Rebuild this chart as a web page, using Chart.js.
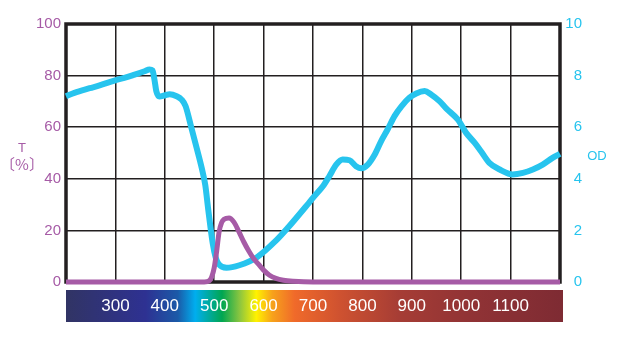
<!DOCTYPE html>
<html>
<head>
<meta charset="utf-8">
<script src="https://cdn.jsdelivr.net/npm/chart.js@4"></script>
<style>
  html, body { margin: 0; padding: 0; background: #fff; }
  #wrap { width: 641px; height: 337px; }
</style>
</head>
<body>
<div id="wrap"><canvas id="chart" width="641" height="337"></canvas></div>
<script>
// transmittance (%) of the filter vs wavelength (nm)
const tWavelength = [200, 480, 490, 495, 500, 505, 510, 515, 520, 530, 540, 550, 560, 570, 580, 590, 600, 612, 625, 640, 660, 700, 1200];
const tValues     = [0,   0,   0.5, 2,   5.5, 12,  19.5, 23, 24.3, 24.8, 23.2, 19.5, 15.5, 12, 9,  6.8, 4.6, 2.6, 1.4, 0.7, 0.3, 0,   0];

// optical density vs wavelength (nm)
const odWavelength = [200, 217, 248, 268, 298, 318, 339, 359, 369, 375, 379, 383, 389, 399, 410, 424, 434, 442, 453, 467, 477, 482, 488, 497, 503, 509, 525, 551, 586, 626, 650, 691, 703, 720, 733, 747, 760, 774, 787, 798, 811, 825, 838, 851, 865, 879, 895, 909, 926, 939, 956, 970, 993, 1010, 1027, 1040, 1057, 1078, 1104, 1125, 1145, 1165, 1185, 1200];
const odValues     = [7.2, 7.33, 7.51, 7.62, 7.81, 7.91, 8.04, 8.17, 8.24, 8.2, 7.85, 7.38, 7.19, 7.23, 7.28, 7.2, 7.07, 6.82, 6.04, 5.01, 4.23, 3.75, 2.8, 1.5, 0.95, 0.7, 0.55, 0.65, 0.95, 1.62, 2.12, 3.05, 3.33, 3.71, 4.1, 4.55, 4.75, 4.72, 4.49, 4.41, 4.55, 4.94, 5.46, 5.91, 6.43, 6.81, 7.14, 7.31, 7.4, 7.27, 7.01, 6.72, 6.3, 5.78, 5.4, 5.07, 4.62, 4.36, 4.17, 4.23, 4.36, 4.55, 4.81, 4.97];

// labels printed on the colour strip under the plot
const stripLabels = [300, 400, 500, 600, 700, 800, 900, 1000, 1100];

const FONT = '"Liberation Sans", Arial, sans-serif';
const INK = '#231f20';
const MAGENTA = '#a65ba6';
const CYAN = '#27c4ee';

const toPoints = (xs, ys) => xs.map((x, i) => ({ x: x, y: ys[i] }));

// heavy box round the plot area
const framePlugin = {
  id: 'frame',
  beforeDatasetsDraw(chart) {
    const { ctx, chartArea: a } = chart;
    ctx.save();
    ctx.strokeStyle = INK;
    ctx.lineWidth = 3.5;
    ctx.strokeRect(a.left, a.top, a.right - a.left, a.bottom - a.top);
    ctx.restore();
  }
};

// spectrum strip with wavelength labels, plus the axis captions
const stripPlugin = {
  id: 'strip',
  afterDraw(chart) {
    const { ctx } = chart;
    const xs = chart.scales.x;
    const left = 66, right = 563, top = 290, bottom = 322;
    const g = ctx.createLinearGradient(left, 0, right, 0);
    g.addColorStop(0.00, '#313464');
    g.addColorStop(0.16, '#2e3192');
    g.addColorStop(0.225, '#1b5aa8');
    g.addColorStop(0.26, '#00aeef');
    g.addColorStop(0.314, '#00a651');
    g.addColorStop(0.35, '#8dc63f');
    g.addColorStop(0.383, '#fff200');
    g.addColorStop(0.415, '#f7a21b');
    g.addColorStop(0.46, '#f06a2a');
    g.addColorStop(0.55, '#cf5230');
    g.addColorStop(0.67, '#a63d35');
    g.addColorStop(0.81, '#913335');
    g.addColorStop(1.00, '#7e2b33');
    ctx.save();
    ctx.fillStyle = g;
    ctx.fillRect(left, top, right - left, bottom - top);

    ctx.fillStyle = '#ffffff';
    ctx.font = '17px ' + FONT;
    ctx.textAlign = 'center';
    ctx.textBaseline = 'middle';
    stripLabels.forEach(v => ctx.fillText(String(v), xs.getPixelForValue(v), 306));

    ctx.fillStyle = MAGENTA;
    ctx.font = '13px ' + FONT;
    ctx.fillText('T', 22, 148);
    ctx.font = '15px "Noto Sans CJK JP", ' + FONT;
    ctx.fillText('〔%〕', 22, 164);

    ctx.fillStyle = CYAN;
    ctx.font = '13px ' + FONT;
    ctx.fillText('OD', 597, 156);
    ctx.restore();
  }
};

new Chart(document.getElementById('chart'), {
  type: 'line',
  data: {
    datasets: [
      {
        label: 'T',
        data: toPoints(tWavelength, tValues),
        yAxisID: 'y',
        borderColor: MAGENTA,
        borderWidth: 5,
        pointRadius: 0,
        cubicInterpolationMode: 'monotone',
        clip: false
      },
      {
        label: 'OD',
        data: toPoints(odWavelength, odValues),
        yAxisID: 'y1',
        borderColor: CYAN,
        borderWidth: 6,
        pointRadius: 0,
        cubicInterpolationMode: 'monotone',
        clip: false
      }
    ]
  },
  options: {
    responsive: false,
    animation: false,
    layout: { padding: { top: 24, right: 59 } },
    plugins: { legend: { display: false }, tooltip: { enabled: false } },
    scales: {
      x: {
        type: 'linear',
        min: 200,
        max: 1200,
        ticks: { stepSize: 100, display: false },
        grid: { color: INK, lineWidth: 1.5, drawTicks: false },
        border: { display: false },
        afterFit: s => { s.height = 55; }
      },
      y: {
        position: 'left',
        min: 0,
        max: 100,
        ticks: { stepSize: 20, color: MAGENTA, padding: 5, font: { family: FONT, size: 15 } },
        grid: { color: INK, lineWidth: 1.5, drawTicks: false },
        border: { display: false },
        afterFit: s => { s.width = 66; }
      },
      y1: {
        position: 'right',
        min: 0,
        max: 10,
        ticks: { stepSize: 2, color: CYAN, padding: 5, crossAlign: 'far', font: { family: FONT, size: 15 } },
        grid: { display: false, drawTicks: false },
        border: { display: false },
        afterFit: s => { s.width = 22; }
      }
    }
  },
  plugins: [framePlugin, stripPlugin]
});
</script>
</body>
</html>
